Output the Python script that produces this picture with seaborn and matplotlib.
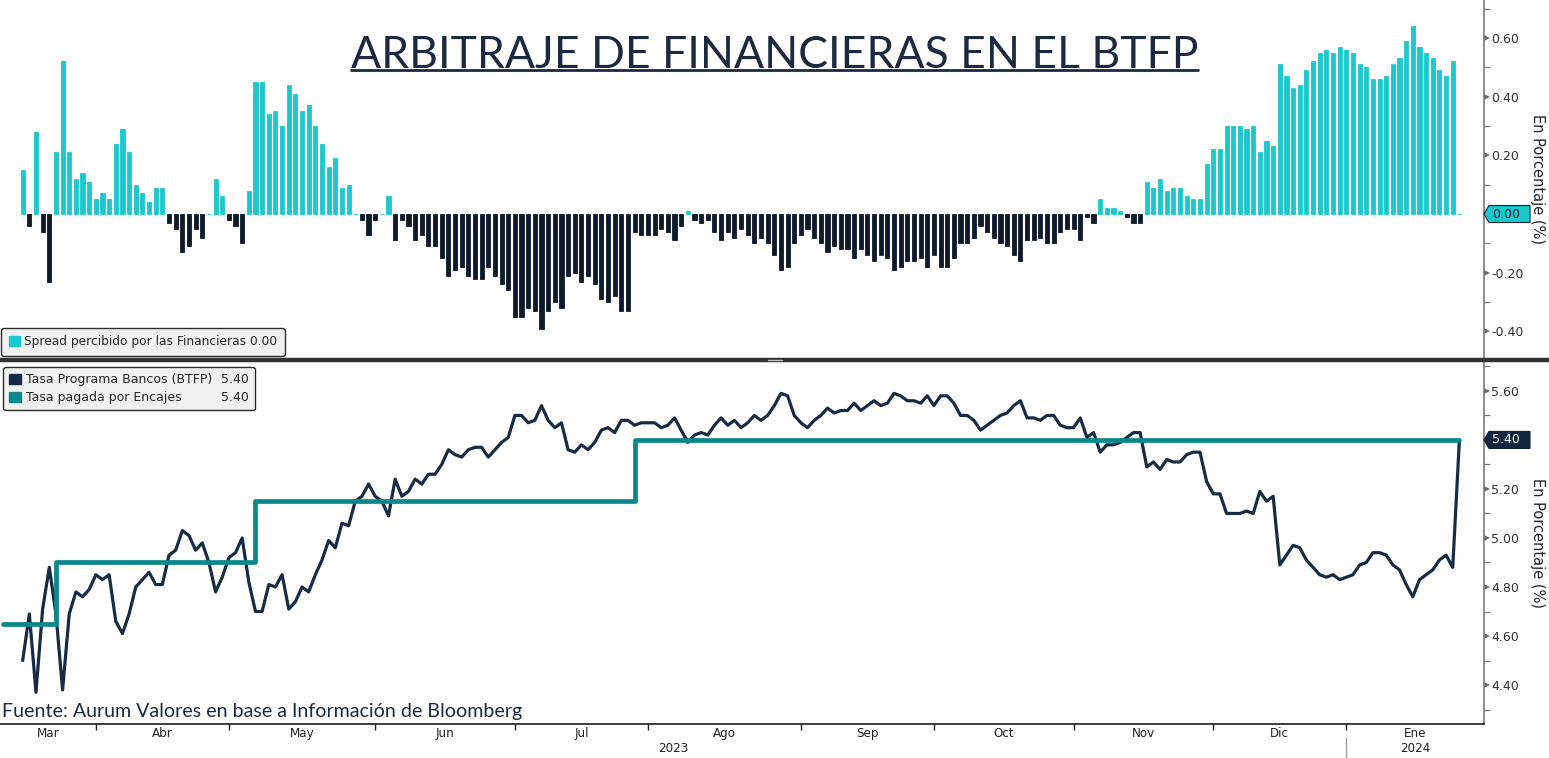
import numpy as np
import pandas as pd
import matplotlib.pyplot as plt
import matplotlib.transforms as mtransforms
from matplotlib.patches import Patch, Polygon
from matplotlib.lines import Line2D
from matplotlib.ticker import MultipleLocator, FixedLocator, NullFormatter
import seaborn as sns

# ---------------- datos ----------------
fecha_inicio = "2023-03-14"
primer_dato = "2023-03-17"
feriados = ["2023-05-29", "2023-06-19", "2023-07-04", "2023-09-04", "2023-10-09",
            "2023-11-23", "2023-12-25", "2024-01-01", "2024-01-15"]

# Spread = tasa encajes - tasa BTFP (en %)
spread = [0.15, -0.04, 0.28, -0.06, -0.23, 0.21, 0.52, 0.21, 0.12, 0.14,
          0.11, 0.05, 0.07, 0.05, 0.24, 0.29, 0.21, 0.10, 0.07, 0.04,
          0.09, 0.09, -0.03, -0.05, -0.13, -0.11, -0.05, -0.08, 0.00, 0.12,
          0.06, -0.02, -0.04, -0.10, 0.08, 0.45, 0.45, 0.34, 0.35, 0.30,
          0.44, 0.41, 0.35, 0.37, 0.30, 0.24, 0.16, 0.19, 0.09, 0.10,
          0.00, -0.02, -0.07, -0.02, 0.00, 0.06, -0.09, -0.02, -0.04, -0.09,
          -0.07, -0.11, -0.11, -0.15, -0.21, -0.19, -0.18, -0.21, -0.22, -0.22,
          -0.18, -0.21, -0.24, -0.26, -0.35, -0.35, -0.32, -0.33, -0.39, -0.33,
          -0.30, -0.32, -0.21, -0.20, -0.23, -0.21, -0.24, -0.29, -0.30, -0.28,
          -0.33, -0.33, -0.06, -0.07, -0.07, -0.07, -0.05, -0.06, -0.09, -0.04,
          0.01, -0.02, -0.03, -0.02, -0.06, -0.09, -0.06, -0.08, -0.05, -0.07,
          -0.10, -0.08, -0.10, -0.14, -0.19, -0.18, -0.10, -0.07, -0.05, -0.08,
          -0.10, -0.13, -0.11, -0.12, -0.12, -0.15, -0.12, -0.14, -0.16, -0.14,
          -0.15, -0.19, -0.18, -0.16, -0.16, -0.15, -0.18, -0.14, -0.18, -0.18,
          -0.15, -0.10, -0.10, -0.08, -0.04, -0.06, -0.08, -0.10, -0.11, -0.14,
          -0.16, -0.09, -0.09, -0.08, -0.10, -0.10, -0.06, -0.05, -0.05, -0.09,
          -0.01, -0.03, 0.05, 0.02, 0.02, 0.01, -0.01, -0.03, -0.03, 0.11,
          0.09, 0.12, 0.08, 0.09, 0.09, 0.06, 0.05, 0.05, 0.17, 0.22,
          0.22, 0.30, 0.30, 0.30, 0.29, 0.30, 0.21, 0.25, 0.23, 0.51,
          0.47, 0.43, 0.44, 0.49, 0.52, 0.55, 0.56, 0.55, 0.57, 0.56,
          0.55, 0.51, 0.50, 0.46, 0.46, 0.47, 0.51, 0.53, 0.59, 0.64,
          0.57, 0.55, 0.53, 0.49, 0.47, 0.52, 0.00]

# Tasa Programa Bancos (BTFP)
btfp = [4.50, 4.69, 4.37, 4.71, 4.88, 4.69, 4.38, 4.69, 4.78, 4.76,
        4.79, 4.85, 4.83, 4.85, 4.66, 4.61, 4.69, 4.80, 4.83, 4.86,
        4.81, 4.81, 4.93, 4.95, 5.03, 5.01, 4.95, 4.98, 4.90, 4.78,
        4.84, 4.92, 4.94, 5.00, 4.82, 4.70, 4.70, 4.81, 4.80, 4.85,
        4.71, 4.74, 4.80, 4.78, 4.85, 4.91, 4.99, 4.96, 5.06, 5.05,
        5.15, 5.17, 5.22, 5.17, 5.15, 5.09, 5.24, 5.17, 5.19, 5.24,
        5.22, 5.26, 5.26, 5.30, 5.36, 5.34, 5.33, 5.36, 5.37, 5.37,
        5.33, 5.36, 5.39, 5.41, 5.50, 5.50, 5.47, 5.48, 5.54, 5.48,
        5.45, 5.47, 5.36, 5.35, 5.38, 5.36, 5.39, 5.44, 5.45, 5.43,
        5.48, 5.48, 5.46, 5.47, 5.47, 5.47, 5.45, 5.46, 5.49, 5.44,
        5.39, 5.42, 5.43, 5.42, 5.46, 5.49, 5.46, 5.48, 5.45, 5.47,
        5.50, 5.48, 5.50, 5.54, 5.59, 5.58, 5.50, 5.47, 5.45, 5.48,
        5.50, 5.53, 5.51, 5.52, 5.52, 5.55, 5.52, 5.54, 5.56, 5.54,
        5.55, 5.59, 5.58, 5.56, 5.56, 5.55, 5.58, 5.54, 5.58, 5.58,
        5.55, 5.50, 5.50, 5.48, 5.44, 5.46, 5.48, 5.50, 5.51, 5.54,
        5.56, 5.49, 5.49, 5.48, 5.50, 5.50, 5.46, 5.45, 5.45, 5.49,
        5.41, 5.43, 5.35, 5.38, 5.38, 5.39, 5.41, 5.43, 5.43, 5.29,
        5.31, 5.28, 5.32, 5.31, 5.31, 5.34, 5.35, 5.35, 5.23, 5.18,
        5.18, 5.10, 5.10, 5.10, 5.11, 5.10, 5.19, 5.15, 5.17, 4.89,
        4.93, 4.97, 4.96, 4.91, 4.88, 4.85, 4.84, 4.85, 4.83, 4.84,
        4.85, 4.89, 4.90, 4.94, 4.94, 4.93, 4.89, 4.87, 4.81, 4.76,
        4.83, 4.85, 4.87, 4.91, 4.93, 4.88, 5.40]

# Tasa pagada por encajes (IORB): fecha desde la que rige cada nivel
encajes_desde = ["2023-03-14", "2023-03-24", "2023-05-05", "2023-07-28"]
encajes_tasa = [4.65, 4.90, 5.15, 5.40]

meses = ["Ene", "Feb", "Mar", "Abr", "May", "Jun", "Jul", "Ago", "Sep", "Oct", "Nov", "Dic"]

titulo = "ARBITRAJE DE FINANCIERAS EN EL BTFP"
fuente = "Fuente: Aurum Valores en base a Información de Bloomberg"

# ---------------- colores ----------------
CIAN = "#1BC8CE"
OSCURO = "#0E1A2B"
NAVY = "#162B45"
TEAL = "#08888A"
TITULO_COLOR = "#1B2A41"
GRIS = "#7a7a7a"

# ---------------- armado de tablas ----------------
previos = len(pd.bdate_range(fecha_inicio, primer_dato, freq="C", holidays=feriados)) - 1
fechas = pd.bdate_range(fecha_inicio, periods=previos + len(spread), freq="C", holidays=feriados)
cal = pd.DataFrame({"fecha": fechas, "pos": np.arange(len(fechas))})

datos = cal.iloc[previos:].copy()
datos["spread"] = spread
datos["btfp"] = btfp
datos["signo"] = np.where(datos["spread"] >= 0, "pos", "neg")

encajes = (pd.Series(encajes_tasa, index=pd.to_datetime(encajes_desde))
           .reindex(fechas, method="ffill"))
cal["encajes"] = encajes.values

# ---------------- figura ----------------
sns.set_theme(style="white")
plt.rcParams["font.family"] = ["DejaVu Sans"]

W, H = 1549, 758
fig = plt.figure(figsize=(W / 100, H / 100), dpi=100)
eje_der = 1484
ax1 = fig.add_axes([0, (H - 357) / H, eje_der / W, 357 / H])
ax2 = fig.add_axes([0, (H - 724) / H, eje_der / W, 362 / H], sharex=ax1)

# panel superior: barras del spread
sns.barplot(data=datos, x="pos", y="spread", hue="signo",
            palette={"pos": CIAN, "neg": OSCURO}, native_scale=True,
            width=0.62, dodge=False, saturation=1, errorbar=None,
            legend=False, ax=ax1)
for p in ax1.patches:
    p.set_edgecolor(p.get_facecolor())
    p.set_linewidth(0.6)

# panel inferior: tasas
sns.lineplot(x=datos["pos"], y=datos["btfp"], color=NAVY, linewidth=2.3,
             errorbar=None, ax=ax2, zorder=2)
sns.lineplot(x=cal["pos"], y=cal["encajes"], color=TEAL, linewidth=3.4,
             drawstyle="steps-post", errorbar=None, ax=ax2, zorder=3)

x_min, x_max = -0.41, 222.7
ax2.set_xlim(x_min, x_max)
ax1.set_ylim(-0.487, 0.729)
ax2.set_ylim(4.241, 5.718)

for ax, paso in ((ax1, 0.2), (ax2, 0.2)):
    ax.set_xlabel("")
    ax.yaxis.tick_right()
    ax.yaxis.set_label_position("right")
    ax.set_ylabel("En Porcentaje (%)", rotation=270, fontsize=10.5, color="#222")
    ax.yaxis.label.set_verticalalignment("center")
    ax.yaxis.label.set_horizontalalignment("center")
    ax.yaxis.set_label_coords(1537 / eje_der, 0.5)
    ax.yaxis.set_major_locator(MultipleLocator(paso))
    ax.yaxis.set_minor_locator(MultipleLocator(paso / 2))
    ax.yaxis.set_major_formatter(lambda v, _: f"{v:.2f}")
    ax.tick_params(axis="y", which="major", length=0, pad=5, labelsize=9,
                   labelcolor="#333")
    ax.tick_params(axis="y", which="minor", length=4.5, width=0.9, color=GRIS)
    for lado in ("left", "top", "bottom"):
        ax.spines[lado].set_visible(False)
    ax.spines["right"].set_color(GRIS)
    ax.spines["right"].set_linewidth(1.2)
    ax.grid(False)
    # triangulitos de los ticks mayores
    ticks = [t for t in ax.get_yticks() if ax.get_ylim()[0] <= t <= ax.get_ylim()[1]]
    tr = mtransforms.offset_copy(ax.get_yaxis_transform(), fig=fig, x=3, y=0, units="dots")
    ax.plot([1] * len(ticks), ticks, ls="", marker=">", ms=4.5, mew=0,
            color="#6a6a6a", transform=tr, clip_on=False)

ax1.tick_params(axis="x", which="both", bottom=False, labelbottom=False)
ax2.spines["bottom"].set_visible(True)
ax2.spines["bottom"].set_color("#1a1a1a")
ax2.spines["bottom"].set_linewidth(1.2)

# eje de meses
inicios = cal.groupby(cal["fecha"].dt.to_period("M"))["pos"].min()
inicio_mes = list(inicios.values[1:])
bordes = [x_min] + inicio_mes + [x_max]
centros = [(a + b) / 2 for a, b in zip(bordes[:-1], bordes[1:])]
etiquetas = [meses[p.month - 1] for p in inicios.index]
ax2.xaxis.set_major_locator(FixedLocator(inicio_mes))
ax2.xaxis.set_major_formatter(NullFormatter())
ax2.xaxis.set_minor_locator(FixedLocator(centros))
ax2.set_xticklabels(etiquetas, minor=True)
ax2.tick_params(axis="x", which="major", bottom=True, length=4, width=1, color="#222")
ax2.tick_params(axis="x", which="minor", bottom=True, length=0, pad=2.5,
                labelsize=9.5, labelcolor="#222")
for t in ax2.get_xticklabels(minor=True):
    t.set_fontstretch("condensed")

# años
pos_ene = inicios.values[-1]
for x_txt, anio in (((x_min + pos_ene) / 2, "2023"), ((pos_ene + x_max) / 2, "2024")):
    ax2.annotate(anio, xy=(x_txt, 0), xycoords=("data", "axes fraction"),
                 xytext=(0, -24), textcoords="offset pixels", ha="center", va="center",
                 fontsize=9.5, color="#222", fontstretch="condensed")
ax2.plot([pos_ene, pos_ene], [-14 / 362, -33 / 362], color="#9a9a9a", lw=1,
         transform=ax2.get_xaxis_transform(), clip_on=False)

# leyendas
leg1 = ax1.legend(handles=[Patch(color=CIAN)],
                  labels=["Spread percibido por las Financieras 0.00"],
                  loc="lower left", bbox_to_anchor=(0, 0), borderaxespad=0.1,
                  fontsize=8.8, handlelength=0.9, handleheight=0.9, handletextpad=0.4,
                  borderpad=0.6, frameon=True, fancybox=True, framealpha=1,
                  facecolor="#F1F1F1", edgecolor="#2a2a2a")
leg1.get_frame().set_linewidth(1.0)

h_vacio = Patch(visible=False)
leg2 = ax2.legend(handles=[Patch(color=NAVY), Patch(color=TEAL), h_vacio, h_vacio],
                  labels=["Tasa Programa Bancos (BTFP)", "Tasa pagada por Encajes", "5.40", "5.40"],
                  ncol=2, columnspacing=-0.6, loc="upper left",
                  bbox_to_anchor=(3 / eje_der, 1 - 5 / 362), borderaxespad=0,
                  fontsize=9, handlelength=0.9, handleheight=0.9, handletextpad=0.4,
                  labelspacing=0.4, borderpad=0.5, frameon=True, fancybox=True,
                  framealpha=1, facecolor="#F1F1F1", edgecolor="#2a2a2a")
leg2.get_frame().set_linewidth(1.0)


# etiquetas de último valor sobre el eje
def etiqueta(ax, valor, texto, fondo, color_txt):
    x0 = ax.transAxes.transform((1, 0))[0]
    y0 = ax.transData.transform((0, valor))[1]
    h, ancho, punta = 8.5, 46, 5
    pts = [(x0, y0), (x0 + punta, y0 + h), (x0 + ancho, y0 + h),
           (x0 + ancho, y0 - h), (x0 + punta, y0 - h)]
    fig.add_artist(Polygon(pts, closed=True, transform=mtransforms.IdentityTransform(),
                           fc=fondo, ec="#0b2630", lw=0.8, zorder=10))
    fig.text(x0 + punta + 3, y0, texto, transform=mtransforms.IdentityTransform(),
             ha="left", va="center", fontsize=9, color=color_txt, zorder=11)


etiqueta(ax1, 0.0, "0.00", CIAN, "#0b2a33")
etiqueta(ax2, 5.40, "5.40", "#13263F", "white")

# separador entre paneles
fig.add_artist(Line2D([0, 1], [(H - 359.5) / H] * 2, transform=fig.transFigure,
                      color="#333333", lw=3.2, zorder=5))
fig.add_artist(Line2D([768 / W, 782 / W], [(H - 359.5) / H] * 2, transform=fig.transFigure,
                      color="#bdbdbd", lw=1, zorder=6))

# título subrayado y fuente
t = fig.text(0.5, (H - 68) / H, titulo, ha="center", va="baseline",
             fontsize=30, color=TITULO_COLOR, family=["Lato", "DejaVu Sans"])
f = fig.text(2 / W, (H - 717) / H, fuente, ha="left", va="baseline",
             fontsize=14, color=TITULO_COLOR, family=["Lato", "DejaVu Sans"])
fig.canvas.draw()
t.set_fontsize(30 * 843 / t.get_window_extent().width)
f.set_fontsize(14 * 522 / f.get_window_extent().width)
fig.canvas.draw()
bb = t.get_window_extent()
fig.add_artist(Line2D([bb.x0 / W, bb.x1 / W], [(H - 70) / H] * 2,
                      transform=fig.transFigure, color=TITULO_COLOR, lw=2))

fig.savefig("out.png", dpi=100)
